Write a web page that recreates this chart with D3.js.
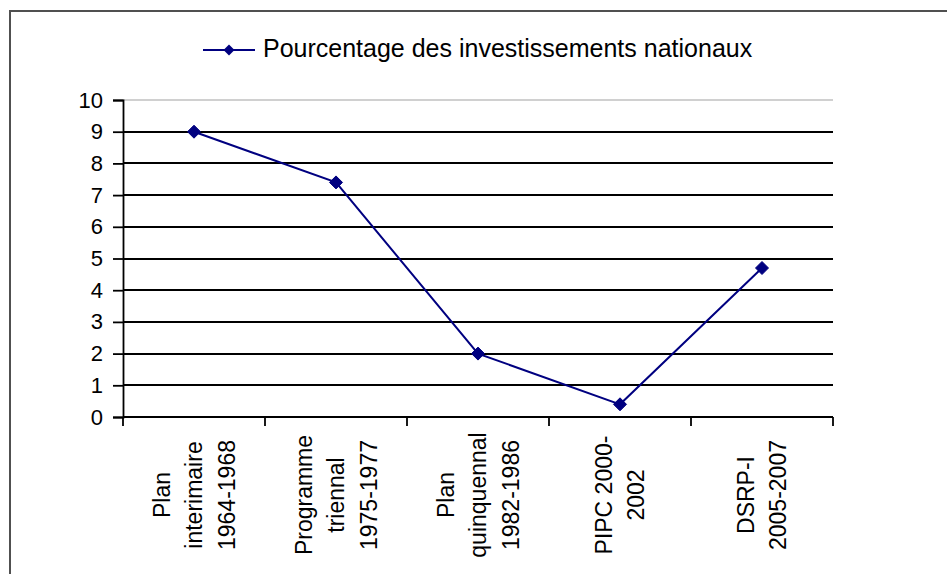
<!DOCTYPE html>
<html>
<head>
<meta charset="utf-8">
<script src="https://cdn.jsdelivr.net/npm/d3@7"></script>
<style>
  html, body { margin: 0; padding: 0; background: #fff; }
  svg { display: block; font-family: "Liberation Sans", Arial, sans-serif; }
</style>
</head>
<body>
<svg id="chart" width="947" height="574"></svg>
<script>
// Plan / programme periods and share of national investment (%)
const categories = [
  ["Plan", "interimaire", "1964-1968"],
  ["Programme", "triennal", "1975-1977"],
  ["Plan", "quinquennal", "1982-1986"],
  ["PIPC 2000-", "2002"],
  ["DSRP-I", "2005-2007"]
];
const values = [9.0, 7.4, 2.0, 0.4, 4.7];
const yTicks = [0, 1, 2, 3, 4, 5, 6, 7, 8, 9, 10];
const seriesName = "Pourcentage des investissements nationaux";

const svg = d3.select("#chart");
const navy = "#000080";

// outer frame of the chart area
svg.append("path")
  .attr("d", "M10,574 L10,11 L947,11")
  .attr("fill", "none")
  .attr("stroke", "#505050")
  .attr("stroke-width", 2);

const plot = { left: 123, right: 833, top: 100, bottom: 417 };

const x = d3.scaleBand()
  .domain(categories.map((d, i) => i))
  .range([plot.left, plot.right]);

const y = d3.scaleLinear()
  .domain([0, 10])
  .range([plot.bottom, plot.top]);

// horizontal gridlines
svg.append("g")
  .selectAll("line")
  .data(yTicks.filter(t => t > 0))
  .join("line")
  .attr("x1", plot.left)
  .attr("x2", plot.right)
  .attr("y1", d => Math.round(y(d)))
  .attr("y2", d => Math.round(y(d)))
  .attr("stroke", d => d === 10 ? "#c0c0c0" : "#000")
  .attr("stroke-width", d => d === 10 ? 1.5 : 1.8);

// y axis
const yAxis = svg.append("g")
  .attr("transform", `translate(${plot.left},0)`)
  .call(d3.axisLeft(y).tickValues(yTicks).tickSize(10).tickPadding(10).tickFormat(d3.format("d")));
yAxis.select(".domain").attr("stroke", "#000").attr("stroke-width", 1.8);
yAxis.selectAll(".tick line").attr("stroke", "#000").attr("stroke-width", 1.8);
yAxis.selectAll(".tick text")
  .attr("font-size", 22)
  .attr("font-family", "Liberation Sans, Arial, sans-serif")
  .attr("fill", "#000");

// x axis with ticks at band boundaries
const xAxis = svg.append("g");
xAxis.append("line")
  .attr("x1", plot.left).attr("x2", plot.right)
  .attr("y1", plot.bottom).attr("y2", plot.bottom)
  .attr("stroke", "#000").attr("stroke-width", 1.8);
const bounds = categories.map((d, i) => x(i)).concat([plot.right]);
xAxis.selectAll("line.tk")
  .data(bounds)
  .join("line")
  .attr("class", "tk")
  .attr("x1", d => d).attr("x2", d => d)
  .attr("y1", plot.bottom).attr("y2", plot.bottom + 9)
  .attr("stroke", "#000").attr("stroke-width", 1.8);

// rotated multi-line category labels
const lineGap = 32.5;
const labels = xAxis.selectAll("g.lbl")
  .data(categories)
  .join("g")
  .attr("class", "lbl")
  .attr("transform", (d, i) => `translate(${x(i) + x.bandwidth() / 2},495) rotate(-90)`);
labels.append("text")
  .attr("text-anchor", "middle")
  .attr("font-size", 23)
  .attr("fill", "#000")
  .selectAll("tspan")
  .data(d => d.map((t, j) => ({ t, off: (j - (d.length - 1) / 2) * lineGap })))
  .join("tspan")
  .attr("x", 0)
  .attr("y", d => d.off)
  .attr("dy", "0.35em")
  .text(d => d.t);

// series line
const cx = i => x(i) + x.bandwidth() / 2;
svg.append("path")
  .datum(values)
  .attr("fill", "none")
  .attr("stroke", navy)
  .attr("stroke-width", 2)
  .attr("d", d3.line().x((d, i) => cx(i)).y(d => y(d)));

// diamond markers
const diamond = r => `M0,${-r} L${r},0 L0,${r} L${-r},0 Z`;
svg.append("g")
  .selectAll("path")
  .data(values)
  .join("path")
  .attr("transform", (d, i) => `translate(${cx(i)},${y(d)})`)
  .attr("d", diamond(6.5))
  .attr("fill", navy)
  .attr("stroke", navy);

// legend
const legend = svg.append("g").attr("transform", "translate(203,50)");
legend.append("line")
  .attr("x1", 0).attr("x2", 52)
  .attr("y1", 0).attr("y2", 0)
  .attr("stroke", navy).attr("stroke-width", 2);
legend.append("path")
  .attr("transform", "translate(26,0)")
  .attr("d", diamond(5.5))
  .attr("fill", navy);
legend.append("text")
  .attr("x", 60)
  .attr("y", 7)
  .attr("font-size", 25)
  .attr("fill", "#000")
  .text(seriesName);
</script>
</body>
</html>
